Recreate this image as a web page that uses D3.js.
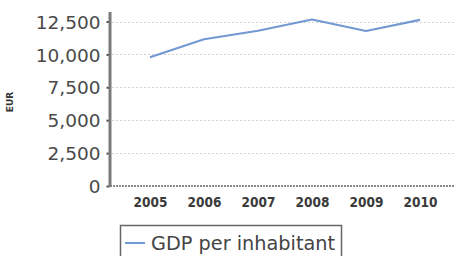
<!DOCTYPE html>
<html><head><meta charset="utf-8">
<script src="https://cdn.jsdelivr.net/npm/d3@7/dist/d3.min.js"></script>
<style>
html,body{margin:0;padding:0;background:#fff;}
svg{display:block;}
</style></head>
<body>
<svg id="chart" width="454" height="256"></svg>
<script>
const years = ["2005","2006","2007","2008","2009","2010"];
const gdpPerInhabitant = [9780, 11150, 11800, 12650, 11780, 12620];
const yTicks = [0, 2500, 5000, 7500, 10000, 12500];
const yLabel = "EUR";
const seriesName = "GDP per inhabitant";

const svg = d3.select("#chart");
const x = d3.scalePoint().domain(years).range([150, 420]);
const y = d3.scaleLinear().domain([0, 12500]).range([186, 21.5]);
const fmt = d3.format(",");

// gridlines
svg.append("g").selectAll("line").data(yTicks.filter(d => d > 0)).join("line")
  .attr("x1", 112).attr("x2", 454)
  .attr("y1", d => Math.round(y(d)) + 0.5).attr("y2", d => Math.round(y(d)) + 0.5)
  .attr("stroke", "#d2d2d2").attr("stroke-width", 1).attr("stroke-dasharray", "2,2");

// x axis line (dashed)
svg.append("line").attr("x1", 110).attr("x2", 454)
  .attr("y1", y(0)).attr("y2", y(0))
  .attr("stroke", "#8a8a8a").attr("stroke-width", 2).attr("stroke-dasharray", "2,1");

// y axis
const yAxis = d3.axisLeft(y).tickValues(yTicks).tickFormat(fmt).tickSize(3).tickPadding(6);
const gy = svg.append("g").attr("transform", "translate(109.5,0)").call(yAxis);
gy.select(".domain").remove();
gy.selectAll(".tick line").attr("stroke", "#555").attr("stroke-width", 2);
gy.selectAll(".tick text").attr("font-family", "DejaVu Sans").attr("font-size", 18.5)
  .attr("fill", "#4a4a4a").attr("dy", "0.36em");
svg.append("line").attr("x1", 110).attr("x2", 110).attr("y1", 12).attr("y2", 187)
  .attr("stroke", "#7a7a7a").attr("stroke-width", 3);

// x axis labels
const xAxis = d3.axisBottom(x).tickSize(0).tickPadding(11);
const gx = svg.append("g").attr("transform", `translate(0,${y(0)})`).call(xAxis);
gx.select(".domain").remove();
gx.selectAll(".tick text").attr("font-family", "DejaVu Sans Condensed, DejaVu Sans").attr("font-weight", "bold")
  .attr("font-size", 13.5).attr("fill", "#3a3a3a");

// y label
svg.append("text").attr("transform", "translate(13,102) rotate(-90)")
  .attr("text-anchor", "middle").attr("font-family", "DejaVu Sans").attr("font-weight", "bold")
  .attr("font-size", 9).attr("fill", "#333").text(yLabel);

// line
const line = d3.line().x((d, i) => x(years[i])).y(d => y(d));
svg.append("path").datum(gdpPerInhabitant).attr("d", line)
  .attr("fill", "none").attr("stroke", "#7399d2").attr("stroke-width", 2.2)
  .attr("stroke-linejoin", "round");

// legend
const lg = svg.append("g");
lg.append("rect").attr("x", 120.5).attr("y", 225.5).attr("width", 221).attr("height", 40)
  .attr("fill", "#fff").attr("stroke", "#666").attr("stroke-width", 1.5);
lg.append("line").attr("x1", 125).attr("x2", 145).attr("y1", 243).attr("y2", 243)
  .attr("stroke", "#7399d2").attr("stroke-width", 2);
lg.append("text").attr("x", 151).attr("y", 250).attr("font-family", "DejaVu Sans")
  .attr("font-size", 19.3).attr("fill", "#444").text(seriesName);
</script>
</body></html>
